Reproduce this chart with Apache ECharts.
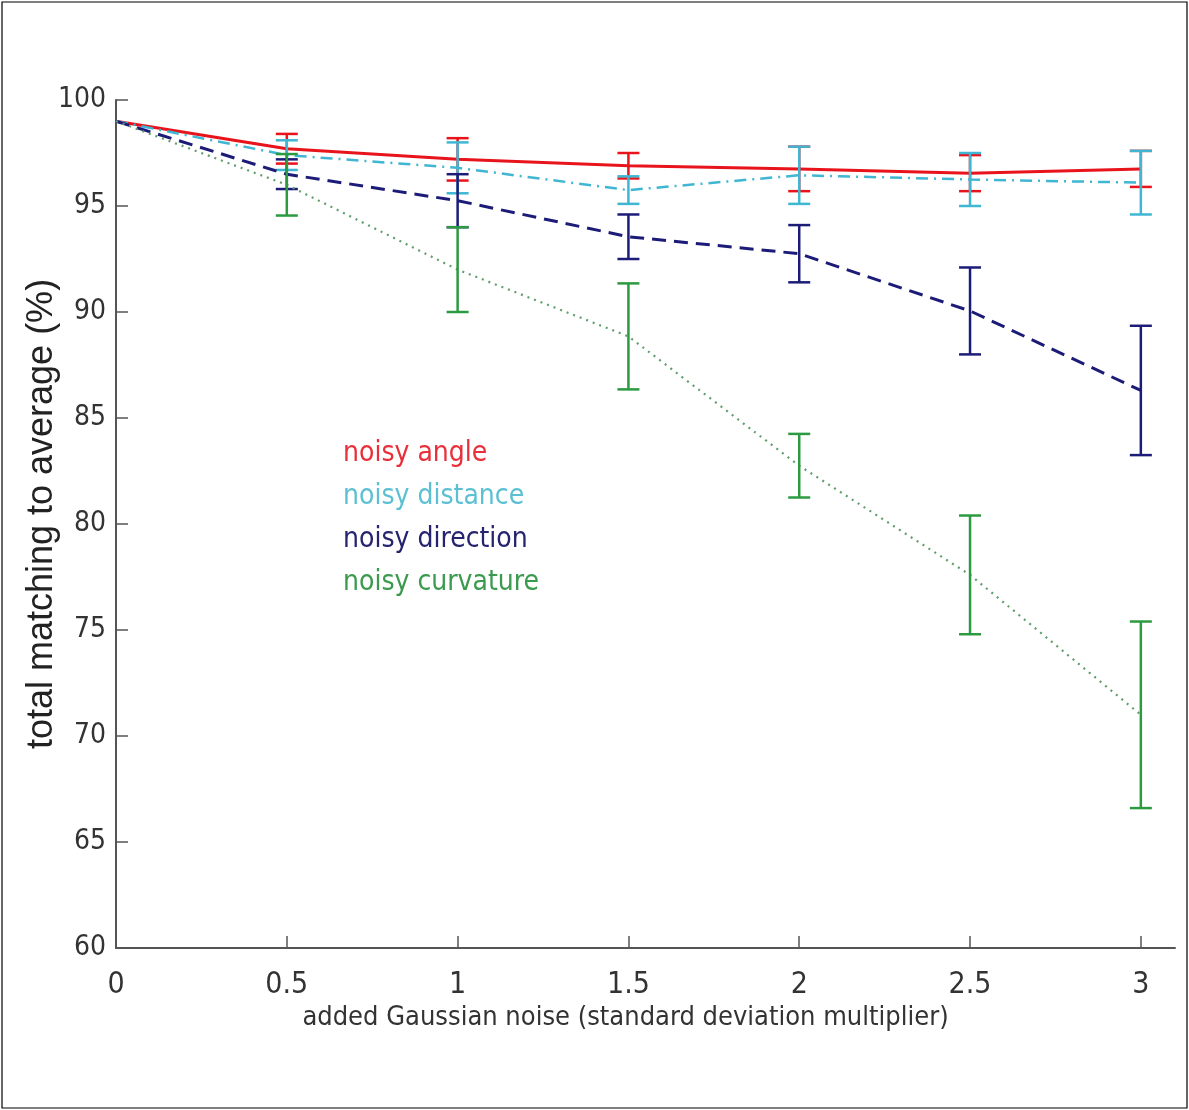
<!DOCTYPE html>
<html>
<head>
<meta charset="utf-8">
<script src="https://cdn.jsdelivr.net/npm/echarts@6/dist/echarts.min.js"></script>
<style>
  html, body { margin: 0; padding: 0; background: #fff; }
  #chart { width: 1189px; height: 1110px; }
</style>
</head>
<body>
<div id="chart"></div>
<script>
// noise levels (x) and tick labels
var noiseLevels = [0, 0.5, 1, 1.5, 2, 2.5, 3];
var xTicks = [0, 0.5, 1, 1.5, 2, 2.5, 3];
var yTicks = [60, 65, 70, 75, 80, 85, 90, 95, 100];

// mean matching (%) and error half-widths
var angleMean     = [99.0, 97.7, 97.2, 96.9, 96.75, 96.55, 96.75];
var angleErr      = [0, 0.7, 1.0, 0.6, 1.05, 0.85, 0.85];
var distanceMean  = [99.0, 97.4, 96.8, 95.75, 96.45, 96.25, 96.1];
var distanceErr   = [0, 0.7, 1.2, 0.65, 1.35, 1.25, 1.5];
var directionMean = [99.0, 96.5, 95.25, 93.55, 92.75, 90.05, 86.3];
var directionErr  = [0, 0.7, 1.25, 1.05, 1.35, 2.05, 3.05];
var curvatureMean = [99.0, 96.0, 92.0, 88.85, 82.75, 77.6, 71.0];
var curvatureErr  = [0, 1.45, 2.0, 2.5, 1.5, 2.8, 4.4];

var seriesNames = ['noisy angle', 'noisy distance', 'noisy direction', 'noisy curvature'];
var lineColors  = ['#e8141c', '#3fb6d2', '#1c1c78', '#2c9a40'];
var textColors  = ['#e8303a', '#5cc0d2', '#26246e', '#3a9a4e'];

var narrow = "'Liberation Sans Narrow', 'DejaVu Sans Condensed', 'Liberation Sans', sans-serif";

function pairs(means) {
    var out = [];
    for (var i = 0; i < noiseLevels.length; i++) out.push([noiseLevels[i], means[i]]);
    return out;
}
function bars(means, errs) {
    var out = [];
    for (var i = 0; i < noiseLevels.length; i++) {
        if (errs[i] > 0) out.push([noiseLevels[i], means[i] - errs[i], means[i] + errs[i]]);
    }
    return out;
}

function errorBarSeries(color, data, z) {
    return {
        type: 'custom',
        data: data,
        z: z,
        silent: true,
        renderItem: function (params, api) {
            var lo = api.coord([api.value(0), api.value(1)]);
            var hi = api.coord([api.value(0), api.value(2)]);
            var hw = 11;
            var style = { stroke: color, lineWidth: 2.5 };
            return {
                type: 'group',
                children: [
                    { type: 'line', shape: { x1: lo[0], y1: lo[1], x2: hi[0], y2: hi[1] }, style: style },
                    { type: 'line', shape: { x1: lo[0] - hw, y1: lo[1], x2: lo[0] + hw, y2: lo[1] }, style: style },
                    { type: 'line', shape: { x1: hi[0] - hw, y1: hi[1], x2: hi[0] + hw, y2: hi[1] }, style: style }
                ]
            };
        }
    };
}

function lineSeries(name, color, data, type, width, z) {
    return {
        name: name,
        type: 'line',
        data: data,
        symbol: 'none',
        z: z,
        lineStyle: { color: color, width: width, type: type },
        itemStyle: { color: color }
    };
}

var chart = echarts.init(document.getElementById('chart'));

var option = {
    backgroundColor: '#fff',
    animation: false,
    grid: { left: 116, right: 14, top: 100, bottom: 162 },
    graphic: [{
        type: 'rect',
        shape: { x: 2, y: 2, width: 1185, height: 1106 },
        style: { fill: 'none', stroke: '#000', lineWidth: 1.2 },
        silent: true
    }],
    legend: {
        orient: 'vertical',
        left: 333,
        top: 435,
        itemGap: 15,
        itemWidth: 0,
        itemHeight: 0,
        icon: 'none',
        selectedMode: false,
        textStyle: { fontSize: 28, fontFamily: narrow },
        data: seriesNames.map(function (n, i) {
            return { name: n, textStyle: { color: textColors[i] } };
        })
    },
    xAxis: {
        type: 'value',
        min: 0,
        max: 3.1,
        name: 'added Gaussian noise (standard deviation multiplier)',
        nameLocation: 'middle',
        nameGap: 56,
        nameMoveOverlap: false,
        nameTextStyle: { fontSize: 27, fontFamily: narrow, color: '#333', padding: [0, 40, 0, 0] },
        axisLine: { onZero: false, lineStyle: { color: '#555', width: 2 } },
        axisTick: { inside: true, length: 12, customValues: xTicks, lineStyle: { color: '#555', width: 1.5 } },
        axisLabel: { customValues: xTicks, margin: 22, fontSize: 30, fontFamily: narrow, color: '#333' },
        splitLine: { show: false }
    },
    yAxis: {
        type: 'value',
        min: 60,
        max: 100,
        interval: 5,
        name: 'total matching to average (%)',
        nameLocation: 'middle',
        nameGap: 56,
        nameMoveOverlap: false,
        nameTextStyle: { fontSize: 36, fontFamily: "'Liberation Sans', Arial, sans-serif", color: '#222',
            padding: [0, 0, 0, 20] },
        axisLine: { show: true, lineStyle: { color: '#555', width: 2 } },
        axisTick: { show: true, inside: true, length: 12, lineStyle: { color: '#555', width: 1.5 } },
        axisLabel: { margin: 10, fontSize: 28, fontFamily: narrow, color: '#333',
            customValues: yTicks },
        splitLine: { show: false }
    },
    series: [
        lineSeries(seriesNames[0], lineColors[0], pairs(angleMean), 'solid', 3, 2),
        errorBarSeries(lineColors[0], bars(angleMean, angleErr), 3),
        lineSeries(seriesNames[1], lineColors[1], pairs(distanceMean), [12, 6, 2, 6], 2.5, 4),
        errorBarSeries(lineColors[1], bars(distanceMean, distanceErr), 5),
        lineSeries(seriesNames[2], lineColors[2], pairs(directionMean), [14, 8], 3, 6),
        errorBarSeries(lineColors[2], bars(directionMean, directionErr), 7),
        lineSeries(seriesNames[3], '#5f9e6c', pairs(curvatureMean), [2, 5], 2.2, 8),
        errorBarSeries(lineColors[3], bars(curvatureMean, curvatureErr), 9)
    ]
};

chart.setOption(option);
</script>
</body>
</html>
